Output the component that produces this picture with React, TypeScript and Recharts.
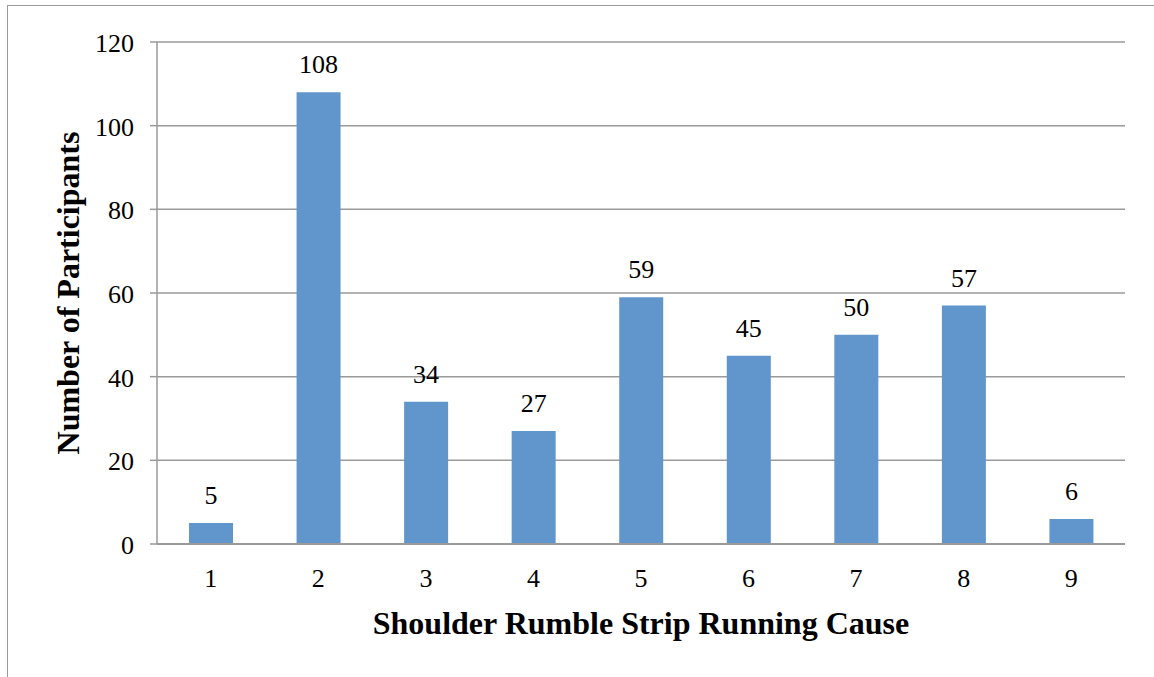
import React from 'react';
import { BarChart, Bar, XAxis, YAxis, CartesianGrid, LabelList, Label } from 'recharts';

const causes = ['1', '2', '3', '4', '5', '6', '7', '8', '9'];
const participants = [5, 108, 34, 27, 59, 45, 50, 57, 6];
const yTicks = [0, 20, 40, 60, 80, 100, 120];

const data = causes.map((cause, i) => ({ cause, value: participants[i] }));

const FONT = '"Liberation Serif", "Times New Roman", serif';
const GRAY = '#9a9a9a';

const XTick = (props: any) => (
    <text x={props.x} y={props.y} dy={43} textAnchor="middle" fontFamily={FONT} fontSize={26} fill="#000">
        {props.payload.value}
    </text>
);

const YTick = (props: any) => (
    <text x={props.x} y={props.y} dy={10} textAnchor="end" fontFamily={FONT} fontSize={26} fill="#000">
        {props.payload.value}
    </text>
);

const YTitle = (props: any) => {
    const vb = props.viewBox || {};
    const cx = vb.x - 29;
    const cy = vb.y + vb.height / 2;
    return (
        <text x={cx} y={cy} transform={`rotate(-90, ${cx}, ${cy})`} textAnchor="middle" dominantBaseline="central"
            fontFamily={FONT} fontSize={32} fontWeight="bold" fill="#000">
            Number of Participants
        </text>
    );
};

const XTitle = (props: any) => {
    const vb = props.viewBox || {};
    return (
        <text x={vb.x + vb.width / 2} y={vb.y + vb.height} textAnchor="middle"
            fontFamily={FONT} fontSize={32} fontWeight="bold" fill="#000">
            Shoulder Rumble Strip Running Cause
        </text>
    );
};

const App: React.FC = () => {
    return (
        <div style={{ position: 'absolute', left: 0, top: 0, width: 1154, height: 677, background: '#fff' }}>
            <div style={{ position: 'absolute', left: 7, top: 5, right: 0, bottom: 0, borderTop: `1.5px solid ${GRAY}`, borderLeft: `1.5px solid ${GRAY}` }} />
            <BarChart width={1154} height={677} data={data} margin={{ top: 42, right: 29, left: 97, bottom: 43 }}
                style={{ position: 'absolute', left: 0, top: 0 }}>
                <CartesianGrid horizontal vertical={false} stroke={GRAY} strokeWidth={1.5} />
                <XAxis dataKey="cause" height={90} tickSize={0} tickMargin={0} tickLine={false}
                    axisLine={{ stroke: GRAY, strokeWidth: 2 }} tick={<XTick />}>
                    <Label content={<XTitle />} />
                </XAxis>
                <YAxis width={60} domain={[0, 120]} ticks={yTicks} interval={0} tickSize={7} tickMargin={16}
                    axisLine={{ stroke: GRAY, strokeWidth: 1.5 }} tickLine={{ stroke: GRAY, strokeWidth: 1.5 }}
                    tick={<YTick />}>
                    <Label content={<YTitle />} />
                </YAxis>
                <Bar dataKey="value" fill="#6096CB" barSize={44} isAnimationActive={false}>
                    <LabelList dataKey="value" position="top" offset={19}
                        fontFamily={FONT} fontSize={26} fill="#000" />
                </Bar>
            </BarChart>
        </div>
    );
};

export default App;
